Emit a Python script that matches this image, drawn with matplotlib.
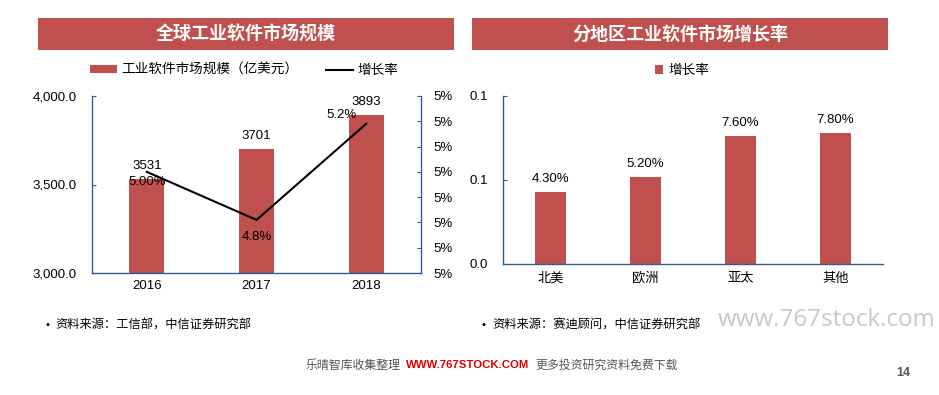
import matplotlib
matplotlib.use("Agg")
import matplotlib.pyplot as plt
from matplotlib.patches import Rectangle
from matplotlib.ticker import FuncFormatter

plt.rcParams['font.family'] = ['Liberation Sans', 'Noto Sans CJK SC', 'DejaVu Sans']

# ---------------- data ----------------
years = ['2016', '2017', '2018']
market_size = [3531, 3701, 3893]          # 亿美元
growth = [0.0500, 0.0481, 0.0519]
growth_labels = ['5.00%', '4.8%', '5.2%']

regions = ['北美', '欧洲', '亚太', '其他']
region_growth = [0.043, 0.052, 0.076, 0.078]
region_labels = ['4.30%', '5.20%', '7.60%', '7.80%']

# ---------------- style ----------------
RED = '#C0504D'
SPINE = '#2F5E99'
W, H = 939, 395


def fx(px):
    return px / W


def fy(py):
    return 1 - py / H


def axes_px(fig, x0, y0, x1, y1):
    return fig.add_axes([fx(x0), fy(y1), fx(x1) - fx(x0), (y1 - y0) / H])


def style_spines(ax, visible):
    for side in ['left', 'right', 'top', 'bottom']:
        ax.spines[side].set_visible(side in visible)
        ax.spines[side].set_color(SPINE)
        ax.spines[side].set_linewidth(1.0)


fig = plt.figure(figsize=(9.39, 3.95), dpi=100)

# title bars
for (x0, x1, title) in [(38, 454, '全球工业软件市场规模'), (472, 888, '分地区工业软件市场增长率')]:
    fig.patches.append(Rectangle((fx(x0), fy(50)), fx(x1) - fx(x0), 32 / H,
                                 transform=fig.transFigure, facecolor=RED, edgecolor='none'))
    fig.text(fx((x0 + x1) / 2), fy(34), title, color='white', fontsize=13,
             fontweight='bold', ha='center', va='center', family='Noto Sans CJK SC')

# ---------------- left chart ----------------
ax = axes_px(fig, 92, 96, 421, 273)
x = range(len(years))
bars = ax.bar(x, market_size, width=0.32, color=RED, zorder=2)
ax.set_ylim(3000, 4000)
ax.set_yticks([3000, 3500, 4000])
ax.yaxis.set_major_formatter(FuncFormatter(lambda v, p: f'{v:,.1f}'))
ax.set_xlim(-0.5, 2.5)
ax.set_xticks(list(x))
ax.set_xticklabels(years)
style_spines(ax, ['left', 'bottom'])
ax.tick_params(axis='y', direction='in', length=3, color=SPINE, labelsize=9.5, pad=11)
ax.tick_params(axis='x', length=0, labelsize=9.5, pad=5)
for i, v in enumerate(market_size):
    ax.annotate(str(v), (i, v), xytext=(0, 5), textcoords='offset points',
                ha='center', va='bottom', fontsize=9.5)

ax2 = ax.twinx()
line, = ax2.plot(list(x), growth, color='black', linewidth=1.5, zorder=3)
ax2.set_ylim(0.046, 0.053)
ax2.set_yticks([0.046 + 0.001 * k for k in range(8)])
ax2.yaxis.set_major_formatter(FuncFormatter(lambda v, p: f'{v:.0%}'))
style_spines(ax2, ['right'])
ax2.tick_params(axis='y', direction='in', length=3, color=SPINE, labelsize=9.5, pad=9)

label_offsets = [(0, -3), (0, -8), (-18, 2)]
label_va = ['top', 'top', 'bottom']
for i, (v, s) in enumerate(zip(growth, growth_labels)):
    ax2.annotate(s, (i, v), xytext=label_offsets[i], textcoords='offset points',
                 ha='center', va=label_va[i], fontsize=9.5)

fig.legend([bars, line], ['工业软件市场规模（亿美元）', '增长率'], loc='center',
           bbox_to_anchor=(fx(244), fy(70)), ncol=2, frameon=False, fontsize=9.8,
           handlelength=2.0, handleheight=0.5, handletextpad=0.3, columnspacing=2.0)

# ---------------- right chart ----------------
bx = axes_px(fig, 503, 96, 883, 264)
xr = range(len(regions))
rbars = bx.bar(xr, region_growth, width=0.32, color=RED, zorder=2)
bx.set_ylim(0, 0.1)
bx.set_yticks([0, 0.05, 0.1])
bx.yaxis.set_major_formatter(FuncFormatter(lambda v, p: f'{v:.1f}'))
bx.set_xlim(-0.5, 3.5)
bx.set_xticks(list(xr))
bx.set_xticklabels(regions)
style_spines(bx, ['left', 'bottom'])
bx.tick_params(axis='y', direction='in', length=3, color=SPINE, labelsize=9.5, pad=11)
bx.tick_params(axis='x', length=0, labelsize=9.5, pad=6)
for i, (v, s) in enumerate(zip(region_growth, region_labels)):
    bx.annotate(s, (i, v), xytext=(0, 5), textcoords='offset points',
                ha='center', va='bottom', fontsize=9.5)

fig.legend([rbars], ['增长率'], loc='center', bbox_to_anchor=(fx(682), fy(70)),
           frameon=False, fontsize=9.8, handlelength=0.6, handleheight=0.6,
           handletextpad=0.4)

# ---------------- footer ----------------
fig.text(fx(47), fy(325), '•', fontsize=8, ha='center', va='center')
fig.text(fx(55), fy(325), '资料来源：工信部，中信证券研究部', fontsize=8.8,
         ha='left', va='center', family='Noto Sans CJK SC', fontweight='medium')
fig.text(fx(484), fy(325), '•', fontsize=8, ha='center', va='center')
fig.text(fx(492), fy(325), '资料来源：赛迪顾问，中信证券研究部', fontsize=8.8,
         ha='left', va='center', family='Noto Sans CJK SC', fontweight='medium')
fig.text(fx(718), fy(320), 'www.767stock.com', fontsize=17.4, color='#C8C8C8',
         ha='left', va='center', family='Open Sans')

fig.text(fx(401), fy(365), '乐晴智库收集整理', fontsize=8.6, color='#555555',
         ha='right', va='center', family='Noto Sans CJK SC')
fig.text(fx(468), fy(365), 'WWW.767STOCK.COM', fontsize=8.2, color='#E00000',
         fontweight='bold', ha='center', va='center')
fig.text(fx(535), fy(365), '更多投资研究资料免费下载', fontsize=8.6, color='#555555',
         ha='left', va='center', family='Noto Sans CJK SC')
fig.text(fx(903), fy(373), '14', fontsize=9, color='#555555', fontweight='bold',
         ha='center', va='center')

fig.savefig('out.png', dpi=100)
